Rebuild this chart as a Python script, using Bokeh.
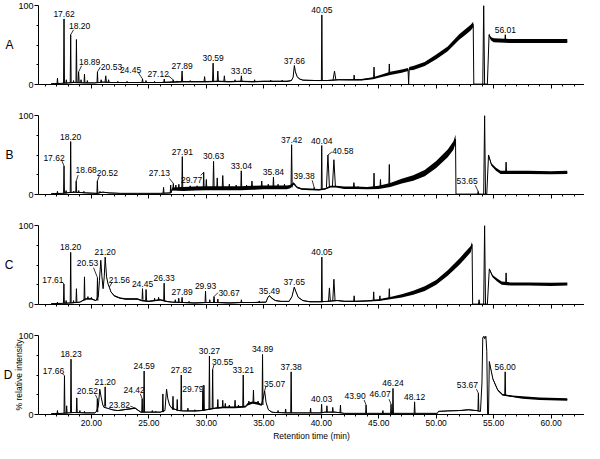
import numpy as np
from bokeh.plotting import figure
from bokeh.models import Range1d, FixedTicker, PrintfTickFormatter, LinearAxis
from bokeh.layouts import column
from bokeh.core.properties import value
from bokeh.embed import file_html
from bokeh.resources import INLINE

# ---------------- data ----------------
X_MAJOR = [20, 25, 30, 35, 40, 45, 50, 55, 60]
X_MINOR = list(range(16, 63))
Y_MAJOR = [0, 100]
Y_MINOR = [25, 50, 75]
LETTERS = ["A", "B", "C", "D"]
Y_TITLE = "% relative intensity"
X_TITLE = "Retention time (min)"

# trace knots: time, intensity, noise half-band
A_t = [16.5, 17.4, 18.5, 19.5, 20.3, 21.0, 21.8, 23.0, 24.0, 25.0, 26.0, 27.0, 28.0, 29.0, 30.0, 31.0, 32.0, 33.0, 34.0, 35.0, 36.0, 37.0, 37.4, 37.55, 37.66, 37.75, 37.9, 38.1, 38.4, 39.5, 40.5, 41.5, 42.5, 43.5, 44.5, 45.0, 46.0, 47.0, 47.55, 47.6, 47.65, 48.0, 49.0, 50.0, 51.0, 52.0, 52.5, 53.0, 53.22, 53.27, 54.45, 54.6, 54.75, 55.0, 56.5, 58.0, 60.0, 61.4]
A_y = [1, 1.5, 2.5, 2, 2, 3, 2.5, 2.5, 2.5, 2.5, 2.5, 3, 3.5, 3.5, 3.5, 4, 3.5, 4, 3.5, 4, 4, 4, 5, 9, 24, 16, 10, 7, 5.5, 5, 5, 6, 6, 6, 8, 10, 14, 17, 19, 0, 20, 21, 26, 35, 45, 60, 66, 72, 76, 0.5, 0.5, 63, 58, 56, 55, 55, 55, 55]
A_n = [0.3, 0.3, 0.5, 0.5, 0.5, 0.5, 0.5, 0.6, 0.6, 0.6, 0.6, 0.8, 0.8, 0.8, 0.8, 0.8, 0.8, 0.8, 0.8, 0.8, 0.8, 0.8, 0.5, 0.5, 0.5, 0.5, 0.5, 0.5, 0.5, 0.6, 0.6, 0.6, 0.8, 1, 1.2, 1.5, 2, 2, 2, 0, 2, 2.5, 2.5, 3, 3, 3.5, 3.5, 3.5, 3.5, 0, 0, 1.5, 2, 2.5, 2.5, 2.5, 2.5, 2.5]
# narrow peaks: time, apex, base, half-width (min)
A_pt = [17.05, 17.62, 17.82, 18.20, 18.45, 18.70, 18.89, 19.10, 19.40, 19.65, 20.53, 20.85, 21.25, 21.50, 22.3, 23.10, 24.45, 24.75, 25.5, 26.34, 27.12, 27.45, 27.89, 28.6, 29.85, 30.59, 31.00, 31.57, 32.5, 33.05, 34.2, 35.6, 36.6, 40.05, 41.15, 42.86, 44.59, 45.92, 49.25, 54.13, 56.01]
A_ph = [8, 83, 6, 63, 5, 57, 16, 6, 13, 5, 16, 6, 11, 6, 4, 4, 7, 5, 4, 7, 6, 4.5, 17, 5, 10, 27, 17, 11, 6, 11, 6, 5.5, 5.5, 88, 17, 12, 22, 26, 30, 100, 63]
A_pb = [1, 1.5, 1.5, 2, 2, 2.5, 2.5, 2.5, 2, 2, 2, 2.5, 3, 2.5, 2.5, 2.5, 2.5, 2.5, 2.5, 2.5, 3, 3.2, 3.5, 3.5, 3.5, 3.8, 4, 3.8, 3.8, 4, 3.8, 4, 4, 5, 6, 6, 8, 13, 27, 0.5, 55]
A_pw = [0.04, 0.04, 0.04, 0.04, 0.04, 0.04, 0.05, 0.04, 0.04, 0.04, 0.04, 0.05, 0.06, 0.05, 0.05, 0.05, 0.05, 0.04, 0.04, 0.04, 0.04, 0.04, 0.05, 0.04, 0.05, 0.05, 0.05, 0.05, 0.04, 0.05, 0.04, 0.04, 0.04, 0.04, 0.12, 0.04, 0.04, 0.04, 0.04, 0.08, 0.04]
A_lab = ["17.62", "18.20", "18.89", "20.53", "24.45", "27.12", "27.89", "30.59", "33.05", "37.66", "40.05", "56.01"]
A_lh = [83, 63, 16, 16, 7, 6, 17, 27, 11, 24, 88, 63]

B_t = [16.5, 17.5, 18.5, 19.5, 20.5, 21.0, 21.5, 22.5, 24.0, 26.0, 26.9, 27.05, 28.0, 29.0, 30.0, 31.0, 32.0, 33.0, 34.0, 35.0, 36.0, 37.0, 37.3, 37.6, 37.9, 38.3, 39.0, 39.8, 40.3, 40.8, 41.3, 42.0, 43.0, 44.0, 45.0, 46.0, 47.0, 48.0, 49.0, 50.0, 51.0, 51.5, 51.68, 51.72, 54.0, 54.4, 54.55, 54.8, 55.2, 55.6, 56.5, 58.0, 60.0, 61.4]
B_y = [1, 1.5, 3, 2, 1.5, 3, 2, 1.5, 1.5, 1.5, 2, 7, 7, 7.5, 8, 8, 8, 8, 8.5, 9, 9, 9, 10, 14, 9, 7, 6.5, 6, 7, 10, 10, 8.5, 8.5, 8, 9, 12, 17, 21, 27, 38, 52, 62, 70, 0.5, 0.5, 0.5, 50, 38, 32, 28, 28, 28, 27.5, 28]
B_n = [0.3, 0.3, 0.5, 0.5, 0.4, 0.5, 0.4, 0.3, 0.3, 0.3, 0.5, 2, 2.5, 2.5, 2.5, 2.5, 2.5, 2.5, 2.5, 2.5, 2.5, 2.5, 2, 1.5, 1, 1, 1, 1, 1, 1, 1.2, 1.5, 1.5, 1.5, 2, 2.5, 3, 3.5, 4, 4.5, 5, 5.5, 5.5, 0, 0, 0, 1, 1.5, 2, 2, 2, 2, 2, 2]
B_pt = [17.05, 17.62, 17.80, 18.20, 18.45, 18.68, 18.90, 19.35, 20.52, 20.75, 26.28, 26.9, 27.13, 27.35, 27.61, 27.91, 28.6, 29.2, 29.77, 30.0, 30.63, 30.95, 31.43, 32.0, 32.6, 33.04, 33.5, 33.97, 34.82, 35.39, 35.84, 36.24, 36.8, 37.42, 39.38, 40.04, 40.58, 41.10, 42.84, 43.2, 44.59, 45.15, 45.92, 53.65, 54.21, 56.08]
B_ph = [4, 36, 5, 67, 4, 17, 5, 4, 17, 4, 9, 12, 14, 12, 13, 48, 11, 11, 28, 19, 42, 21, 24, 13, 12, 30, 12, 17, 17, 13, 22, 13, 13, 63, 9, 62, 50, 44, 15, 10, 27, 19, 38, 4, 100, 41]
B_pb = [1, 1.5, 1.5, 2, 2.5, 3, 2.5, 2, 1.5, 2.5, 1.5, 2, 7, 7, 7, 7, 7, 7.5, 7.5, 8, 8, 8, 8, 8, 8, 8, 8, 8.5, 8.5, 9, 9, 9, 9, 9, 6, 6, 9, 10, 8.5, 8.5, 8.5, 9, 12, 0.5, 0.5, 28]
B_pw = [0.04, 0.04, 0.04, 0.04, 0.04, 0.04, 0.04, 0.04, 0.04, 0.05, 0.04, 0.04, 0.04, 0.04, 0.04, 0.04, 0.04, 0.04, 0.04, 0.04, 0.05, 0.04, 0.05, 0.04, 0.04, 0.04, 0.04, 0.05, 0.05, 0.04, 0.04, 0.04, 0.04, 0.05, 0.04, 0.04, 0.13, 0.13, 0.05, 0.04, 0.04, 0.04, 0.04, 0.05, 0.08, 0.04]
B_lab = ["17.62", "18.20", "18.68", "20.52", "27.13", "27.91", "29.77", "30.63", "33.04", "35.84", "37.42", "39.38", "40.04", "40.58", "53.65"]
B_lh = [36, 67, 17, 17, 14, 48, 28, 42, 30, 22, 63, 9, 62, 50, 4]

C_t = [16.5, 17.5, 18.3, 19.0, 19.5, 20.0, 20.4, 20.6, 20.7, 20.82, 20.92, 21.02, 21.12, 21.20, 21.32, 21.45, 21.56, 21.7, 22.0, 22.5, 23.0, 24.0, 24.4, 25.0, 25.5, 26.0, 26.5, 27.0, 28.0, 29.0, 30.0, 31.0, 32.0, 33.0, 34.0, 35.2, 35.35, 35.49, 35.7, 36.0, 36.5, 37.2, 37.45, 37.65, 37.8, 38.0, 38.4, 39.0, 40.0, 40.5, 41.4, 42.0, 43.0, 44.0, 45.0, 46.0, 47.0, 48.0, 49.0, 50.0, 51.0, 52.0, 52.5, 53.0, 53.12, 53.17, 54.45, 54.62, 54.9, 55.3, 55.7, 56.5, 58.0, 60.0, 61.4]
C_y = [1, 1.5, 2, 3, 7, 7, 5, 10, 30, 56, 35, 20, 35, 60, 35, 26, 22, 16, 11, 8, 7, 7, 5, 4, 5, 6, 4, 3, 2.5, 2, 2.5, 2.5, 2, 2.5, 2.5, 3, 9, 11, 8, 5, 4, 4, 10, 22, 16, 9, 5, 3.5, 3.5, 4, 5, 4, 4, 4.5, 5.5, 8, 11, 15, 20, 28, 40, 54, 62, 70, 76, 0.5, 0.5, 45, 36, 31, 27, 26, 26, 25.5, 26]
C_n = [0.3, 0.3, 0.4, 0.5, 0.8, 0.8, 0.5, 0.5, 0.5, 0.5, 0.5, 0.5, 0.5, 0.5, 0.5, 0.5, 0.5, 0.5, 0.8, 0.8, 1, 1, 0.8, 0.8, 0.8, 0.8, 0.8, 0.6, 0.6, 0.6, 0.6, 0.6, 0.6, 0.6, 0.6, 0.6, 0.5, 0.5, 0.5, 0.5, 0.5, 0.5, 0.5, 0.5, 0.5, 0.5, 0.5, 0.5, 0.5, 0.5, 0.6, 0.6, 0.8, 0.8, 1, 1.5, 2, 2.5, 3, 3, 3.5, 4, 4, 4, 3.5, 0, 0, 1, 1.5, 2, 2, 2, 2, 2, 2]
C_pt = [17.05, 17.61, 17.80, 18.20, 18.45, 18.70, 19.40, 19.70, 20.0, 20.53, 24.45, 24.76, 25.5, 25.85, 26.33, 27.3, 27.6, 27.89, 28.5, 29.93, 30.3, 30.67, 31.0, 33.05, 34.6, 40.05, 40.71, 41.10, 42.86, 44.56, 45.10, 45.92, 53.73, 54.21, 56.08]
C_ph = [3, 26, 5, 66, 5, 20, 35, 10, 9, 34, 20, 19, 8, 9, 27, 6, 8, 9, 4, 17, 6, 10, 7, 6, 4.5, 60, 21, 32, 11, 16, 11, 20, 6, 100, 40]
C_pb = [1, 1.5, 1.5, 2, 2, 2.5, 5, 7, 7, 5, 6, 5, 5, 5.5, 5, 3, 3, 2.5, 2.5, 2, 2.5, 2.5, 2.5, 2.5, 2.5, 3.5, 4, 4.5, 4, 5, 5.5, 7.5, 0.5, 0.5, 26]
C_pw = [0.04, 0.04, 0.04, 0.04, 0.04, 0.04, 0.04, 0.04, 0.04, 0.04, 0.04, 0.04, 0.04, 0.04, 0.04, 0.04, 0.04, 0.04, 0.04, 0.04, 0.04, 0.05, 0.04, 0.04, 0.04, 0.04, 0.08, 0.1, 0.04, 0.04, 0.04, 0.04, 0.05, 0.08, 0.04]
C_lab = ["17.61", "18.20", "20.53", "21.20", "21.56", "24.45", "26.33", "27.89", "29.93", "30.67", "35.49", "37.65", "40.05"]
C_lh = [26, 66, 34, 60, 22, 20, 27, 9, 17, 10, 11, 22, 60]

D_t = [16.5, 17.5, 18.5, 19.5, 20.3, 20.45, 20.6, 20.73, 20.85, 21.0, 21.1, 21.4, 21.8, 22.3, 22.8, 23.3, 23.82, 24.0, 24.3, 25.0, 26.0, 26.4, 26.54, 26.65, 26.8, 27.0, 27.6, 28.0, 29.0, 29.6, 30.0, 30.8, 31.5, 32.5, 33.4, 33.6, 34.0, 34.5, 34.8, 35.0, 35.07, 35.2, 35.4, 35.7, 36.0, 37.0, 38.0, 39.0, 40.0, 40.3, 41.2, 42.0, 44.0, 46.0, 48.0, 50.1, 50.2, 51.0, 52.0, 52.8, 53.5, 53.85, 53.98, 54.05, 54.15, 54.22, 54.32, 54.4, 54.47, 54.55, 54.62, 54.93, 55.35, 55.77, 56.6, 57.5, 59.0, 61.4]
D_y = [1, 1.5, 2.5, 2, 2, 4, 10, 32, 22, 12, 9, 8, 6, 5, 6, 7, 8, 6, 3, 3, 3, 5, 32, 20, 12, 8, 5, 4.5, 4.5, 5, 6, 8, 9, 9, 10, 13, 15, 14, 12, 24, 30, 15, 6, 3, 2.5, 2, 2, 2, 2, 3, 3, 1.5, 1.5, 1.5, 1.5, 1.5, 4, 4.5, 5, 6, 5, 4, 40, 97, 99, 96, 99, 80, 0.5, 0.5, 67, 45, 31, 25, 23, 21.5, 20, 19]
D_n = [0.3, 0.3, 0.4, 0.4, 0.4, 0.3, 0.3, 0.3, 0.3, 0.3, 0.3, 0.3, 0.4, 0.5, 0.6, 0.6, 0.6, 0.5, 0.4, 0.4, 0.4, 0.3, 0.3, 0.3, 0.3, 0.4, 0.5, 0.5, 0.6, 0.6, 0.6, 0.8, 1, 1, 1, 1.5, 1.5, 1.5, 1, 0.5, 0.5, 0.5, 0.4, 0.4, 0.4, 0.4, 0.4, 0.4, 0.4, 0.4, 0.4, 0.3, 0.3, 0.3, 0.3, 0.3, 0.4, 0.5, 0.5, 0.5, 0.5, 0.4, 0.4, 0.4, 0.4, 0.4, 0.4, 0.4, 0, 0, 0.5, 1, 1, 1, 1, 1.5, 1.5, 1.5]
D_pt = [17.05, 17.66, 17.85, 18.23, 18.73, 19.0, 19.4, 20.52, 21.20, 22.9, 23.4, 24.42, 24.59, 25.3, 25.6, 26.22, 27.10, 27.47, 27.82, 28.4, 29.0, 29.70, 29.79, 30.27, 30.55, 31.0, 31.43, 31.65, 32.0, 32.5, 32.8, 33.21, 33.7, 34.1, 34.5, 34.89, 36.24, 36.9, 37.38, 39.07, 40.03, 40.49, 41.0, 41.67, 43.90, 45.36, 46.07, 46.24, 48.12, 53.67, 56.00]
D_ph = [5, 49, 11, 70, 21, 5, 4, 20, 35, 7, 8, 20, 55, 5, 4, 26, 23, 19, 50, 8, 6, 30, 37, 74, 57, 19, 18, 14, 12, 18, 12, 50, 17, 31, 17, 76, 5, 7, 54, 8, 13, 11, 9, 12, 12, 5, 13, 33, 16, 27, 54]
D_pb = [1, 1.5, 1.5, 2, 2.5, 2.5, 2, 3, 10, 6, 7, 3, 3, 3, 3, 3, 6, 5, 5, 4.5, 4.5, 5, 5, 6, 7, 8, 9, 9, 9, 9, 9.5, 10, 13, 15, 14, 12, 2.5, 2, 2, 2, 2, 3, 3, 2, 1.5, 1.5, 1.5, 1.5, 1.5, 5, 23.5]
D_pw = [0.04] * 51
D_lab = ["17.66", "18.23", "20.52", "21.20", "23.82", "24.42", "24.59", "27.82", "29.79", "30.27", "30.55", "33.21", "34.89", "35.07", "37.38", "40.03", "43.90", "46.07", "46.24", "48.12", "53.67", "56.00"]
D_lh = [49, 70, 20, 35, 8, 20, 55, 50, 37, 74, 57, 50, 76, 30, 54, 13, 12, 13, 33, 16, 27, 54]

# ---------------- styles / label placement (screen px) ----------------
A_ldx = [0, 9, 11, 14, -12, -15, 0, 0, 0, 0, 0, 0]
A_ldy = [-5, -9, -10, -5, -9, -6, -5, -5, -5, -5, -5, -5]
A_llx = [0, 3, 3, 3, -4, -5, 0, 0, 0, 0, 0, 0]
A_lly = [0, -5, -6, -5, -6, -4, 0, 0, 0, 0, 0, 0]

B_ldx = [-10, 0, 10, 10, -14, 0, -12, 0, 0, 0, 0, -10, 0, 15, -11]
B_ldy = [-8, -5, -11, -8, -10, -5, 8, -5, -5, -5, -5, -11, -5, -4, -10]
B_llx = [-2, 0, 2, 2, -4, 0, -3, 0, 0, 0, 0, -2, 0, 4, -3]
B_lly = [-5, 0, -6, -5, -5, 0, 3, 0, 0, 0, 0, -7, 0, -3, -6]

C_ldx = [-11, 0, -10, 0, 10, 0, 0, 0, 0, 15, 0, 0, 0]
C_ldy = [-4, -5, -15, -5, -7, -5, -5, -5, -5, -4, -5, -5, -5]
C_llx = [-2, 0, -4, 0, 3, 0, 0, 0, 0, 4, 0, 0, 0]
C_lly = [-2, 0, -10, 0, -5, 0, 0, 0, 0, -4, 0, 0, 0]

D_ldx = [-11, 0, -10, 0, -16, -8, 0, 0, -11, 0, 10, 0, 0, 10, 0, 0, -11, -11, 0, 0, -11, 0]
D_ldy = [-5, -5, -8, -5, -3, -9, -5, -5, 4, -5, -7, -5, -5, -7, -5, -5, -9, -10, -5, -5, -8, -5]
D_llx = [-2, 0, -2, 0, -5, -2, 0, 0, -3, 0, 1.5, 0, 0, 1.5, 0, 0, -2, -2, 0, 0, -2, 0]
D_lly = [-2, 0, -4, 0, -2, -5, 0, 0, 2, 0, -5, 0, 0, -5, 0, 0, -5, -5, 0, 0, -4, 0]

FONT = "Liberation Sans"
X0, X1 = 15.4, 62.9
W = 584
ML, MR = 30, 0
FW = W - ML - MR
FH = 79
PXX = FW / (X1 - X0)
PXY = FH / 100.0


def style_axis(ax):
    ax.axis_line_color = "black"
    ax.major_tick_line_color = "black"
    ax.minor_tick_line_color = "black"
    ax.major_tick_in = 0
    ax.minor_tick_in = 0
    ax.major_tick_out = 4
    ax.minor_tick_out = 2
    ax.major_label_standoff = 1
    ax.major_label_text_font = FONT
    ax.major_label_text_color = "black"
    ax.axis_label_text_font = FONT
    ax.axis_label_text_font_style = "normal"
    ax.axis_label_text_color = "black"


def make_panel(letter, tt, ty, tn, pt, ph, pb, pw, lab, lh, ldx, ldy, llx, lly, last):
    bottom = 29 if last else 26
    p = figure(width=W, height=5 + FH + bottom, x_range=Range1d(X0, X1), y_range=Range1d(0, 100),
               output_backend="svg", toolbar_location=None,
               min_border_left=ML, min_border_right=MR, min_border_top=5, min_border_bottom=bottom)
    p.outline_line_color = None
    p.grid.visible = False
    p.background_fill_color = "white"
    p.border_fill_color = "white"

    xa = p.xaxis[0]
    style_axis(xa)
    xa.ticker = FixedTicker(ticks=X_MAJOR, minor_ticks=X_MINOR)
    xa.formatter = PrintfTickFormatter(format="%.2f")
    xa.major_label_text_font_size = "8.5px"
    if last:
        xa.axis_label = X_TITLE
        xa.axis_label_text_font_size = "8.5px"
        xa.axis_label_standoff = 2
    else:
        xa.major_label_text_alpha = 0

    ya = p.yaxis[0]
    style_axis(ya)
    ya.ticker = FixedTicker(ticks=Y_MAJOR, minor_ticks=Y_MINOR)
    ya.major_label_text_font_size = "9px"
    if last:
        ya.axis_label = Y_TITLE
        ya.axis_label_text_font_size = "8.5px"
        ya.axis_label_standoff = -9

    # letter as a tick-less extra axis on the left
    la = LinearAxis(ticker=FixedTicker(ticks=[]), axis_label=letter)
    la.axis_line_color = None
    la.major_tick_line_color = None
    la.minor_tick_line_color = None
    la.major_tick_out = 0
    la.minor_tick_out = 0
    la.major_label_standoff = 0
    la.major_label_text_font_size = "1px"
    la.axis_label_orientation = "horizontal"
    la.axis_label_text_font = FONT
    la.axis_label_text_font_style = "normal"
    la.axis_label_text_font_size = "12px"
    la.axis_label_text_color = "black"
    la.axis_label_standoff = -1 if last else 2
    p.add_layout(la, "left")

    t = np.array(tt, dtype=float)
    y = np.array(ty, dtype=float)
    n = np.array(tn, dtype=float)
    p.varea(x=t, y1=y - n, y2=y + n, fill_color="black")
    p.line(t, y, line_color="black", line_width=1)

    xs = [[a - w, a, a + w] for a, w in zip(pt, pw)]
    ys = [[b, h, b] for h, b in zip(ph, pb)]
    p.multi_line(xs, ys, line_color="black", line_width=1)

    lab_t = [float(s) for s in lab]
    lx0, ly0, lx1, ly1 = [], [], [], []
    for a, h, dx, dy in zip(lab_t, lh, llx, lly):
        if dx == 0 and dy == 0:
            continue
        lx0.append(a)
        ly0.append(h)
        lx1.append(a + dx / PXX)
        ly1.append(h - dy / PXY)
    p.segment(x0=lx0, y0=ly0, x1=lx1, y1=ly1, line_color="black", line_width=0.8)

    p.text(x=lab_t, y=lh, text=lab, x_offset=ldx, y_offset=ldy,
           text_font=value(FONT), text_font_size="8.5px", text_color="black",
           text_align="center", text_baseline="middle")
    return p


pA = make_panel(LETTERS[0], A_t, A_y, A_n, A_pt, A_ph, A_pb, A_pw, A_lab, A_lh, A_ldx, A_ldy, A_llx, A_lly, False)
pB = make_panel(LETTERS[1], B_t, B_y, B_n, B_pt, B_ph, B_pb, B_pw, B_lab, B_lh, B_ldx, B_ldy, B_llx, B_lly, False)
pC = make_panel(LETTERS[2], C_t, C_y, C_n, C_pt, C_ph, C_pb, C_pw, C_lab, C_lh, C_ldx, C_ldy, C_llx, C_lly, False)
pD = make_panel(LETTERS[3], D_t, D_y, D_n, D_pt, D_ph, D_pb, D_pw, D_lab, D_lh, D_ldx, D_ldy, D_llx, D_lly, True)

layout = column(pA, pB, pC, pD)
open("out.html", "w").write(file_html(layout, INLINE))
